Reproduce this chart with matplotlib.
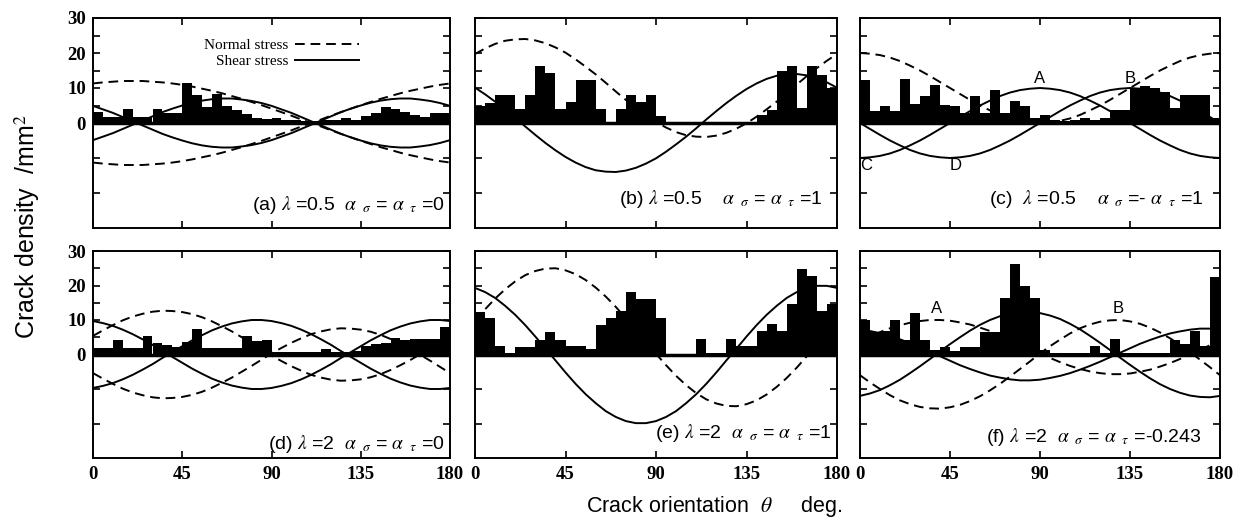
import matplotlib
matplotlib.use("Agg")
import matplotlib.pyplot as plt
import numpy as np

plt.rcParams["mathtext.fontset"] = "stix"
plt.rcParams["font.family"] = "Liberation Sans"

# histogram: crack density per 5 deg bin (0-5, 5-10, ... 175-180)
bin_left = np.arange(0, 180, 5)
bars_a = [3.2, 1.8, 1.8, 3.9, 1.8, 1.8, 3.9, 2.8, 2.8, 11.3, 8.0, 4.5, 8.3, 5.0, 3.7, 2.5, 1.5, 1.2,
          1.5, 1.0, 1.0, 0.5, 0.5, 1.0, 1.0, 1.5, 1.0, 2.0, 3.0, 4.7, 3.9, 3.2, 2.2, 1.8, 2.8, 2.8]
bars_b = [5.0, 5.7, 7.9, 7.9, 4.1, 7.9, 16.2, 14.3, 4.1, 6.0, 12.4, 12.4, 4.1, 0.0, 4.1, 7.9, 6.0, 7.9,
          1.9, 0.0, 0.0, 0.0, 0.0, 0.0, 0.0, 0.0, 0.0, 0.0, 2.4, 3.8, 14.8, 16.2, 4.3, 16.2, 13.8, 10.0]
bars_c = [12.4, 3.3, 5.0, 3.3, 12.6, 5.5, 7.8, 11.0, 5.2, 5.0, 2.9, 7.8, 3.0, 9.5, 3.0, 6.2, 5.0, 1.4,
          2.4, 1.0, 0.5, 1.0, 1.5, 1.0, 1.5, 3.6, 3.6, 10.0, 10.5, 10.0, 9.0, 4.3, 8.1, 8.1, 8.1, 1.5]
bars_d = [1.9, 1.9, 4.1, 1.9, 1.9, 5.4, 3.3, 2.8, 2.2, 3.5, 7.3, 1.9, 1.9, 1.9, 1.9, 5.4, 4.0, 4.3,
          0.8, 0.8, 0.8, 0.8, 0.8, 1.6, 0.8, 0.8, 1.0, 2.5, 2.9, 3.2, 4.8, 4.1, 4.5, 4.5, 4.5, 7.9]
bars_e = [12.4, 10.5, 2.4, 0.5, 2.1, 2.1, 4.3, 6.5, 4.3, 2.4, 2.4, 1.5, 8.6, 10.5, 12.5, 18.1, 16.2, 16.2,
          10.5, 0.0, 0.0, 0.0, 4.6, 0.5, 0.5, 4.6, 2.4, 2.4, 6.7, 8.8, 6.7, 14.5, 24.8, 22.7, 12.6, 14.5]
bars_f = [10.0, 6.5, 6.7, 10.0, 4.3, 11.9, 4.1, 1.4, 2.2, 1.0, 2.2, 2.2, 6.4, 6.4, 16.3, 26.2, 20.0, 16.3,
          1.4, 0.5, 0.5, 0.5, 0.5, 2.4, 0.5, 4.5, 0.5, 0.5, 0.5, 0.5, 0.5, 4.3, 2.9, 6.7, 2.5, 22.4]

# stress curves read every 5 deg (0..180)
theta = np.arange(0, 181, 5)
a_norm_1 = [11.3, 11.6, 11.8, 12.0, 12.0, 12.0, 11.8, 11.6, 11.3, 10.9, 10.4, 9.8, 9.2, 8.5, 7.7, 6.9, 6.0, 5.1, 4.1,
            3.1, 2.1, 1.0, 0.0, -1.0, -2.1, -3.1, -4.1, -5.1, -6.0, -6.9, -7.7, -8.5, -9.2, -9.8, -10.4, -10.9, -11.3]
a_norm_2 = [-11.3, -11.6, -11.8, -12.0, -12.0, -12.0, -11.8, -11.6, -11.3, -10.9, -10.4, -9.8, -9.2, -8.5, -7.7, -6.9, -6.0, -5.1, -4.1,
            -3.1, -2.1, -1.0, 0.0, 1.0, 2.1, 3.1, 4.1, 5.1, 6.0, 6.9, 7.7, 8.5, 9.2, 9.8, 10.4, 10.9, 11.3]
a_shear_1 = [4.9, 3.9, 2.9, 1.7, 0.5, -0.7, -1.9, -3.1, -4.1, -5.0, -5.8, -6.4, -6.8, -7.0, -7.0, -6.7, -6.3, -5.7, -4.9,
             -3.9, -2.9, -1.7, -0.5, 0.7, 1.9, 3.1, 4.1, 5.0, 5.8, 6.4, 6.8, 7.0, 7.0, 6.7, 6.3, 5.7, 4.9]
a_shear_2 = [-4.9, -3.9, -2.9, -1.7, -0.5, 0.7, 1.9, 3.1, 4.1, 5.0, 5.8, 6.4, 6.8, 7.0, 7.0, 6.7, 6.3, 5.7, 4.9,
             3.9, 2.9, 1.7, 0.5, -0.7, -1.9, -3.1, -4.1, -5.0, -5.8, -6.4, -6.8, -7.0, -7.0, -6.7, -6.3, -5.7, -4.9]

b_norm = [19.7, 21.3, 22.6, 23.5, 23.9, 24.0, 23.6, 22.8, 21.6, 20.1, 18.2, 16.1, 13.9, 11.5, 9.0, 6.6, 4.3, 2.2, 0.3,
          -1.3, -2.6, -3.5, -3.9, -4.0, -3.6, -2.8, -1.6, -0.1, 1.8, 3.9, 6.1, 8.5, 11.0, 13.4, 15.7, 17.8, 19.7]
b_shear = [10.1, 8.2, 6.1, 3.9, 1.5, -1.0, -3.4, -5.7, -7.8, -9.7, -11.3, -12.6, -13.5, -13.9, -14.0, -13.6, -12.8, -11.6, -10.1,
           -8.2, -6.1, -3.9, -1.5, 1.0, 3.4, 5.7, 7.8, 9.7, 11.3, 12.6, 13.5, 13.9, 14.0, 13.6, 12.8, 11.6, 10.1]

c_norm = [20.0, 19.8, 19.4, 18.7, 17.7, 16.4, 15.0, 13.4, 11.7, 10.0, 8.3, 6.6, 5.0, 3.6, 2.3, 1.3, 0.6, 0.2, 0.0,
          0.2, 0.6, 1.3, 2.3, 3.6, 5.0, 6.6, 8.3, 10.0, 11.7, 13.4, 15.0, 16.4, 17.7, 18.7, 19.4, 19.8, 20.0]
c_shear_1 = [-10.0, -9.8, -9.4, -8.7, -7.7, -6.4, -5.0, -3.4, -1.7, 0.0, 1.7, 3.4, 5.0, 6.4, 7.7, 8.7, 9.4, 9.8, 10.0,
             9.8, 9.4, 8.7, 7.7, 6.4, 5.0, 3.4, 1.7, 0.0, -1.7, -3.4, -5.0, -6.4, -7.7, -8.7, -9.4, -9.8, -10.0]
c_shear_2 = [0.0, -1.7, -3.4, -5.0, -6.4, -7.7, -8.7, -9.4, -9.8, -10.0, -9.8, -9.4, -8.7, -7.7, -6.4, -5.0, -3.4, -1.7, 0.0,
             1.7, 3.4, 5.0, 6.4, 7.7, 8.7, 9.4, 9.8, 10.0, 9.8, 9.4, 8.7, 7.7, 6.4, 5.0, 3.4, 1.7, 0.0]

d_norm_1 = [5.4, 7.0, 8.5, 9.9, 11.0, 11.8, 12.4, 12.7, 12.6, 12.3, 11.7, 10.8, 9.6, 8.2, 6.7, 5.0, 3.3, 1.5, -0.3,
            -1.9, -3.4, -4.7, -5.9, -6.7, -7.3, -7.6, -7.5, -7.2, -6.6, -5.7, -4.5, -3.1, -1.6, 0.1, 1.8, 3.6, 5.4]
d_norm_2 = [-5.4, -7.0, -8.5, -9.9, -11.0, -11.8, -12.4, -12.7, -12.6, -12.3, -11.7, -10.8, -9.6, -8.2, -6.7, -5.0, -3.3, -1.5, 0.3,
            1.9, 3.4, 4.7, 5.9, 6.7, 7.3, 7.6, 7.5, 7.2, 6.6, 5.7, 4.5, 3.1, 1.6, -0.1, -1.8, -3.6, -5.4]
d_shear_1 = [9.7, 9.1, 8.3, 7.2, 5.9, 4.4, 2.8, 1.0, -0.7, -2.4, -4.1, -5.6, -7.0, -8.1, -9.0, -9.6, -10.0, -10.0, -9.7,
             -9.1, -8.3, -7.2, -5.9, -4.4, -2.8, -1.0, 0.7, 2.4, 4.1, 5.6, 7.0, 8.1, 9.0, 9.6, 10.0, 10.0, 9.7]
d_shear_2 = [-9.7, -9.1, -8.3, -7.2, -5.9, -4.4, -2.8, -1.0, 0.7, 2.4, 4.1, 5.6, 7.0, 8.1, 9.0, 9.6, 10.0, 10.0, 9.7,
             9.1, 8.3, 7.2, 5.9, 4.4, 2.8, 1.0, -0.7, -2.4, -4.1, -5.6, -7.0, -8.1, -9.0, -9.6, -10.0, -10.0, -9.7]

e_norm = [9.8, 13.1, 16.2, 18.9, 21.2, 23.0, 24.2, 24.9, 25.0, 24.4, 23.3, 21.6, 19.4, 16.8, 13.8, 10.5, 7.1, 3.6, 0.2,
          -3.1, -6.2, -8.9, -11.2, -13.0, -14.2, -14.9, -15.0, -14.4, -13.3, -11.6, -9.4, -6.8, -3.8, -0.5, 2.9, 6.4, 9.8]
e_shear = [19.3, 18.1, 16.4, 14.1, 11.5, 8.5, 5.2, 1.7, -1.7, -5.2, -8.5, -11.5, -14.1, -16.4, -18.1, -19.3, -19.9, -19.9, -19.3,
           -18.1, -16.4, -14.1, -11.5, -8.5, -5.2, -1.7, 1.7, 5.2, 8.5, 11.5, 14.1, 16.4, 18.1, 19.3, 19.9, 19.9, 19.3]

f_norm_1 = [-6.0, -8.1, -10.0, -11.8, -13.3, -14.4, -15.2, -15.6, -15.7, -15.3, -14.6, -13.5, -12.1, -10.4, -8.5, -6.4, -4.2, -2.0, 0.3,
            2.4, 4.3, 6.1, 7.6, 8.7, 9.5, 9.9, 10.0, 9.6, 8.9, 7.8, 6.4, 4.7, 2.8, 0.7, -1.5, -3.7, -6.0]
f_norm_2 = [4.1, 5.3, 6.5, 7.6, 8.5, 9.2, 9.7, 10.0, 10.0, 9.8, 9.3, 8.7, 7.8, 6.8, 5.6, 4.3, 3.0, 1.6, 0.3,
            -1.0, -2.2, -3.3, -4.2, -4.9, -5.4, -5.7, -5.7, -5.5, -5.0, -4.4, -3.5, -2.5, -1.3, 0.0, 1.3, 2.7, 4.1]
f_shear_1 = [-12.0, -11.3, -10.3, -8.9, -7.3, -5.4, -3.4, -1.3, 0.9, 3.0, 5.0, 6.9, 8.6, 10.0, 11.1, 11.9, 12.3, 12.4, 12.0,
             11.3, 10.3, 8.9, 7.3, 5.4, 3.4, 1.3, -0.9, -3.0, -5.0, -6.9, -8.6, -10.0, -11.1, -11.9, -12.3, -12.4, -12.0]
f_shear_2 = [7.3, 6.8, 6.2, 5.4, 4.4, 3.3, 2.1, 0.8, -0.5, -1.8, -3.1, -4.2, -5.2, -6.1, -6.7, -7.2, -7.5, -7.5, -7.3,
             -6.8, -6.2, -5.4, -4.4, -3.3, -2.1, -0.8, 0.5, 1.8, 3.1, 4.2, 5.2, 6.1, 6.7, 7.2, 7.5, 7.5, 7.3]

labels = [r"(a) $\lambda$ =0.5  $\alpha_{\ \ \sigma}$ = $\alpha_{\ \ \tau}$ =0",
          r"(b) $\lambda$ =0.5    $\alpha_{\ \ \sigma}$ = $\alpha_{\ \ \tau}$ =1",
          r"(c)  $\lambda$ =0.5    $\alpha_{\ \ \sigma}$ =- $\alpha_{\ \ \tau}$ =1",
          r"(d) $\lambda$ =2  $\alpha_{\ \ \sigma}$ = $\alpha_{\ \ \tau}$ =0",
          r"(e) $\lambda$ =2  $\alpha_{\ \ \sigma}$ = $\alpha_{\ \ \tau}$ =1",
          r"(f) $\lambda$ =2  $\alpha_{\ \ \sigma}$ = $\alpha_{\ \ \tau}$ =-0.243"]

panels = [
    (bars_a, [a_norm_1, a_norm_2], [a_shear_1, a_shear_2]),
    (bars_b, [b_norm], [b_shear]),
    (bars_c, [c_norm], [c_shear_1, c_shear_2]),
    (bars_d, [d_norm_1, d_norm_2], [d_shear_1, d_shear_2]),
    (bars_e, [e_norm], [e_shear]),
    (bars_f, [f_norm_1, f_norm_2], [f_shear_1, f_shear_2]),
]

W, H = 1247, 521
lefts = [93, 475, 860]
widths = [357, 362, 360]
row_top = [18, 251]
row_h = [210, 207]
label_y = [0.11, 0.14, 0.14, 0.07, 0.12, 0.10]
label_x = [0.985, 0.96, 0.955, 0.985, 0.985, 0.95]

fig = plt.figure(figsize=(W / 100, H / 100), dpi=100)
axes = []
for i, (bars, norms, shears) in enumerate(panels):
    r, c = divmod(i, 3)
    ax = fig.add_axes([lefts[c] / W, 1 - (row_top[r] + row_h[r]) / H, widths[c] / W, row_h[r] / H])
    axes.append(ax)
    ax.bar(bin_left, bars, width=5, align="edge", color="black", linewidth=0)
    ax.axhline(0, color="black", lw=2.5)
    norm_lines = [ax.plot(theta, y, color="black", lw=1.4, ls=(0, (5, 3)))[0] for y in norms]
    shear_lines = [ax.plot(theta, y, color="black", lw=1.4)[0] for y in shears]
    ax.set_xlim(0, 180)
    ax.set_ylim(-30, 30)
    ax.set_xticks([0, 45, 90, 135, 180])
    ax.set_yticks([-20, -10, 0, 10, 20, 30])
    ax.set_yticks([5, 15, 25], minor=True)
    ax.set_yticklabels(["", "", "0", "10", "20", "30"])
    ax.tick_params(which="both", direction="in", top=True, right=True, length=5, width=1.2,
                   labelsize=13.5, labelleft=(c == 0), labelbottom=(r == 1))
    ax.tick_params(axis="x", pad=6)
    ax.tick_params(axis="y", pad=5)
    for t in ax.get_xticklabels() + ax.get_yticklabels():
        t.set_fontfamily("Liberation Serif")
        t.set_fontweight("bold")
    for s in ax.spines.values():
        s.set_linewidth(1.4)
    ax.text(label_x[i], label_y[i], labels[i], transform=ax.transAxes, ha="right", va="center",
            fontsize=14)
    if i == 0:
        ax.legend(norm_lines[:1] + shear_lines[:1], ["Normal stress", "Shear stress"],
                  markerfirst=False, frameon=False, loc="upper left", bbox_to_anchor=(0.29, 0.94),
                  borderpad=0, labelspacing=0.15, handlelength=4.2, handletextpad=0.4,
                  prop={"family": "Liberation Serif", "size": 11})

axes[2].text(90, 10.5, "A", ha="center", va="bottom", fontsize=12)
axes[2].text(135, 10.5, "B", ha="center", va="bottom", fontsize=12)
axes[2].text(3, -12, "C", ha="center", va="center", fontsize=12)
axes[2].text(48, -12, "D", ha="center", va="center", fontsize=12)
axes[5].text(38.5, 13.3, "A", ha="center", va="center", fontsize=12)
axes[5].text(129, 13.3, "B", ha="center", va="center", fontsize=12)

fig.text(0.022, 0.565, "Crack density  /mm$^2$", rotation=90, ha="center", va="center", fontsize=18)
fig.text(0.573, 0.027, r"Crack orientation  $\theta$     deg.", ha="center", va="center", fontsize=15.5)

fig.savefig("out.png", dpi=100)
